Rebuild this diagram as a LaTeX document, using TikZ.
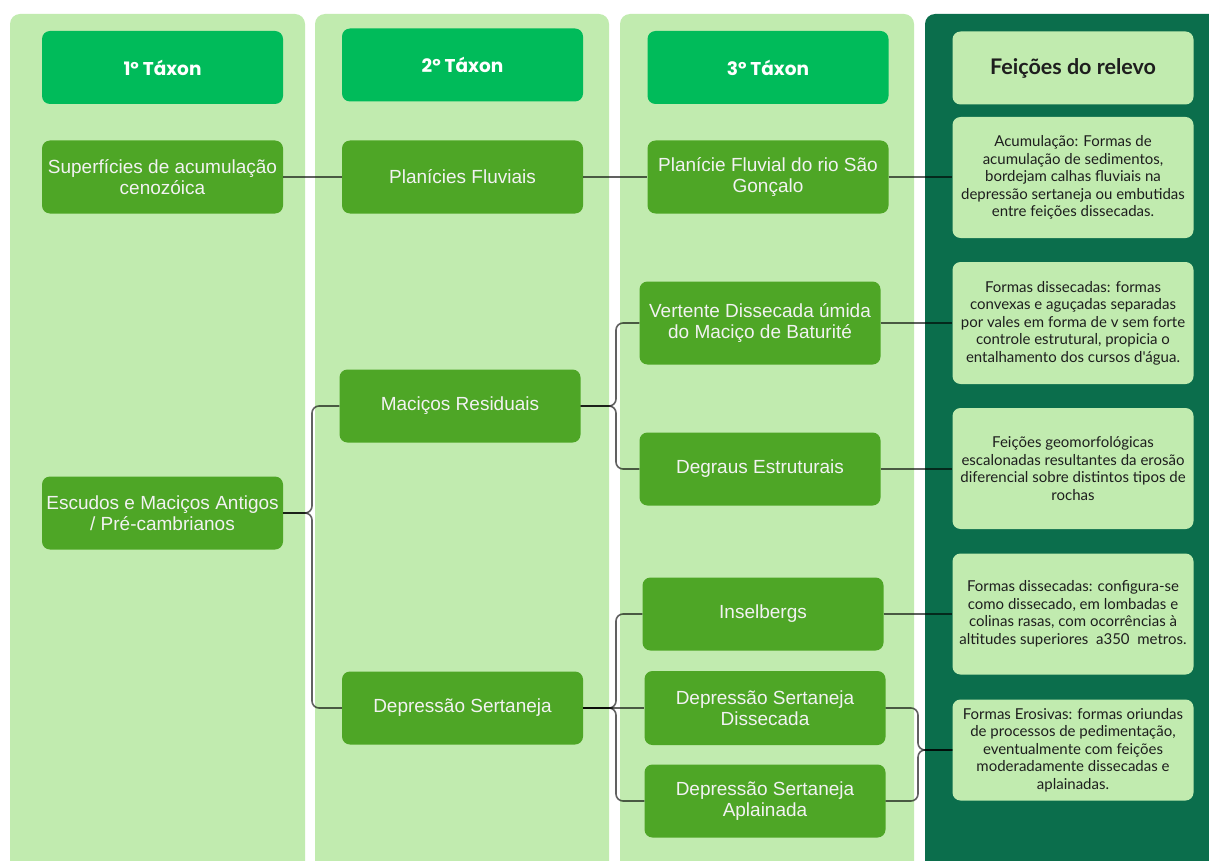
\documentclass[tikz,border=0pt]{standalone}
\usepackage{fontspec}
\setmainfont{Liberation Sans}
\newfontfamily\hfont{Poppins}
\newfontfamily\dfont{Lato}
\definecolor{colbg}{HTML}{C1EBAF}
\definecolor{hdrgreen}{HTML}{00BB5A}
\definecolor{nodegreen}{HTML}{4EA626}
\definecolor{darkcol}{HTML}{0B6E4C}
\definecolor{desctext}{HTML}{1E1E1E}
\definecolor{nodetext}{HTML}{F2F2F2}
\tikzset{
  colbox/.style={fill=colbg, rounded corners=10pt},
  hdr/.style={rectangle, rounded corners=8pt, fill=hdrgreen, text=white,
    font=\hfont\bfseries\fontsize{18.5}{22}\selectfont, minimum width=241pt, minimum height=73pt, inner sep=0pt},
  hdrlight/.style={hdr, fill=colbg, text=desctext, font=\dfont\bfseries\fontsize{21.5}{24}\selectfont},
  tbox/.style={rectangle, rounded corners=8pt, fill=nodegreen, text=nodetext, align=center,
    font=\fontsize{19}{21}\selectfont, minimum width=241pt, minimum height=73pt, inner sep=0pt},
  desc/.style={rectangle, rounded corners=8pt, fill=colbg, text=desctext, align=center,
    font=\dfont\fontsize{15}{17.5}\selectfont, minimum width=241pt, inner sep=0pt},
  conn/.style={draw=black, draw opacity=0.62, line width=1.6pt, rounded corners=7pt}
}
\begin{document}
\begin{tikzpicture}[x=1pt,y=-1pt]
\useasboundingbox (0,0) rectangle (1209,861);
\clip (0,0) rectangle (1209,861);
\fill[white] (0,0) rectangle (1209,861);
% columns
\fill[colbox] (10,14) rectangle (305,890);
\fill[colbox] (315,14) rectangle (609,890);
\fill[colbox] (620,14) rectangle (914,890);
\fill[darkcol, rounded corners=10pt] (925,14) rectangle (1240,890);
% headers
\node[hdr] (h1) at (162.5,67.5) {1º Táxon};
\node[hdr] (h2) at (462.5,65) {2º Táxon};
\node[hdr] (h3) at (768,67.5) {3º Táxon};
\node[hdrlight] (h4) at (1073,68) {Feições do relevo};
% taxon nodes
\node[tbox] (n11) at (162.5,177) {Superfícies de acumulação\\cenozóica};
\node[tbox] (n12) at (162.5,513) {Escudos e Maciços Antigos\\/ Pré-cambrianos};
\node[tbox] (n21) at (462.5,177) {Planícies Fluviais};
\node[tbox] (n22) at (460,406) {Maciços Residuais};
\node[tbox] (n23) at (462.5,708) {Depressão Sertaneja};
\node[tbox] (n31) at (768,177) {Planície Fluvial do rio São\\Gonçalo};
\node[tbox, minimum height=83pt] (n32) at (760,323) {Vertente Dissecada úmida\\do Maciço de Baturité};
\node[tbox] (n33) at (760,469) {Degraus Estruturais};
\node[tbox] (n34) at (763,614) {Inselbergs};
\node[tbox, minimum height=74pt] (n35) at (765,708) {Depressão Sertaneja\\Dissecada};
\node[tbox] (n36) at (765,801) {Depressão Sertaneja\\Aplainada};
% descriptions
\node[desc, minimum height=121pt] (d1) at (1073,177.5) {Acumulação: Formas de\\acumulação de sedimentos,\\bordejam calhas fluviais na\\depressão sertaneja ou embutidas\\entre feições dissecadas.};
\node[desc, minimum height=122pt] (d2) at (1073,323) {Formas dissecadas: formas\\convexas e aguçadas separadas\\por vales em forma de v sem forte\\controle estrutural, propicia o\\entalhamento dos cursos d'água.};
\node[desc, minimum height=121pt] (d3) at (1073,468.5) {Feições geomorfológicas\\escalonadas resultantes da erosão\\diferencial sobre distintos tipos de\\rochas};
\node[desc, minimum height=121pt] (d4) at (1073,614) {Formas dissecadas: configura-se\\como dissecado, em lombadas e\\colinas rasas, com ocorrências à\\altitudes superiores\ \ a350\ \ metros.};
\node[desc, minimum height=101pt] (d5) at (1073,750) {Formas Erosivas: formas oriundas\\de processos de pedimentação,\\eventualmente com feições\\moderadamente dissecadas e\\aplainadas.};
% junctions
\coordinate (j1) at (312,513);
\coordinate (j2) at (616,406);
\coordinate (j3) at (616,708);
\coordinate (j4) at (918,750);
% connectors
\draw[conn] (n11.east) -- (n21.west);
\draw[conn] (n21.east) -- (n31.west);
\draw[conn] (n31.east) -- (n31.east -| d1.west);
\draw[conn] (n12.east) -- (j1) |- (n22.west);
\draw[conn] (n12.east) -- (j1) |- (n23.west);
\draw[conn] (n22.east) -- (j2) |- (n32.west);
\draw[conn] (n22.east) -- (j2) |- (n33.west);
\draw[conn] (n32.east) -- (n32.east -| d2.west);
\draw[conn] (n33.east) -- (n33.east -| d3.west);
\draw[conn] (n23.east) -- (j3) |- (n34.west);
\draw[conn] (n23.east) -- (n35.west);
\draw[conn] (n23.east) -- (j3) |- (n36.west);
\draw[conn] (n34.east) -- (n34.east -| d4.west);
\draw[conn] (n35.east) -| (j4) -- (d5.west);
\draw[conn] (n36.east) -| (j4) -- (d5.west);
\end{tikzpicture}
\end{document}
